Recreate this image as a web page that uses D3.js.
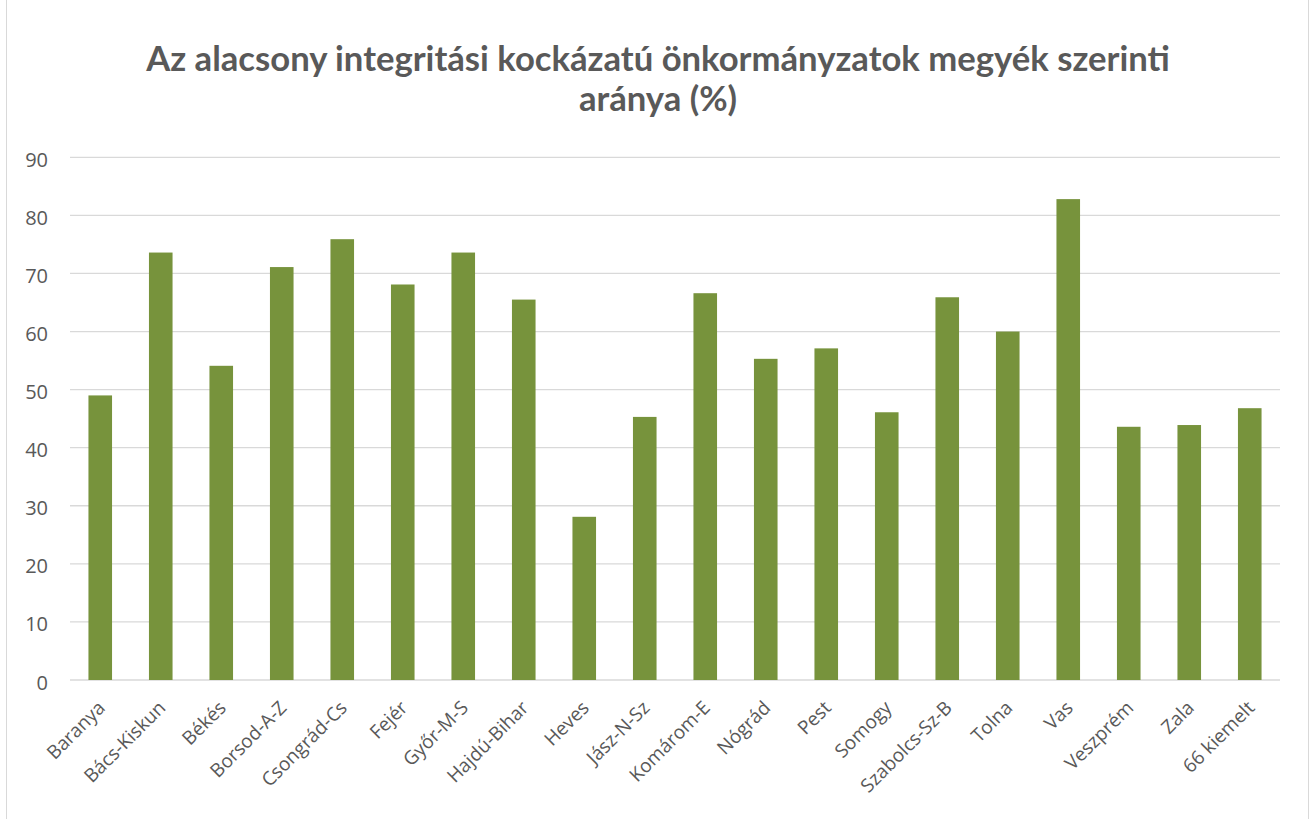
<!DOCTYPE html>
<html>
<head>
<meta charset="utf-8">
<script src="https://cdn.jsdelivr.net/npm/d3@7"></script>
<style>
  body { margin: 0; background: #fff; }
  svg { display: block; }
</style>
</head>
<body>
<div id="chart"></div>
<script>
const width = 1312, height = 819;

const title = ["Az alacsony integritási kockázatú önkormányzatok megyék szerinti", "aránya (%)"];

const counties = ["Baranya", "Bács-Kiskun", "Békés", "Borsod-A-Z", "Csongrád-Cs", "Fejér",
  "Győr-M-S", "Hajdú-Bihar", "Heves", "Jász-N-Sz", "Komárom-E", "Nógrád", "Pest",
  "Somogy", "Szabolcs-Sz-B", "Tolna", "Vas", "Veszprém", "Zala", "66 kiemelt"];

const shares = [49.0, 73.6, 54.1, 71.1, 75.9, 68.1, 73.6, 65.5, 28.1, 45.3,
  66.6, 55.3, 57.1, 46.1, 65.9, 60.0, 82.8, 43.6, 43.9, 46.8];

const yTicks = [0, 10, 20, 30, 40, 50, 60, 70, 80, 90];

const plot = {left: 70, right: 1280, top: 157.3, bottom: 680};

const svg = d3.select("#chart")
  .append("svg")
    .attr("width", width)
    .attr("height", height);

// chart frame (only sides visible)
svg.append("rect")
  .attr("x", 6.5).attr("y", -5)
  .attr("width", 1302).attr("height", height + 20)
  .attr("fill", "none")
  .attr("stroke", "#d9d9d9")
  .attr("stroke-width", 1);

const x = d3.scaleBand()
  .domain(counties)
  .range([plot.left, plot.right])
  .paddingInner(0.61)
  .paddingOuter(0.305);

const y = d3.scaleLinear()
  .domain([0, 90])
  .range([plot.bottom, plot.top]);

// gridlines
svg.append("g")
  .attr("class", "grid")
  .selectAll("line")
  .data(yTicks)
  .join("line")
    .attr("x1", plot.left)
    .attr("x2", plot.right)
    .attr("y1", d => y(d))
    .attr("y2", d => y(d))
    .attr("stroke", "#d9d9d9")
    .attr("stroke-width", 1.3);

// y axis labels
const yAxis = svg.append("g")
  .attr("transform", `translate(${plot.left - 22},0)`)
  .call(d3.axisLeft(y).tickValues(yTicks).tickSize(0).tickPadding(0));
yAxis.select(".domain").remove();
yAxis.selectAll("text")
  .attr("fill", "#595959")
  .attr("dy", "0.45em")
  .style("font-family", "'Open Sans', sans-serif")
  .style("font-size", "20px");

// bars
svg.append("g")
  .selectAll("rect")
  .data(counties)
  .join("rect")
    .attr("x", d => x(d))
    .attr("y", (d, i) => y(shares[i]))
    .attr("width", x.bandwidth())
    .attr("height", (d, i) => y(0) - y(shares[i]))
    .attr("fill", "#77933c");

// x labels
svg.append("g")
  .selectAll("text")
  .data(counties)
  .join("text")
    .attr("transform", d => `translate(${x(d) + x.bandwidth() / 2 + 6},${plot.bottom + 29}) rotate(-45)`)
    .attr("text-anchor", "end")
    .attr("fill", "#595959")
    .style("font-family", "'Open Sans', sans-serif")
    .style("font-size", "19px")
    .text(d => d);

// title, squeezed horizontally to the reference's narrow bold face
const tg = svg.append("g");
tg.selectAll("text")
  .data(title)
  .join("text")
    .attr("x", 0)
    .attr("y", (d, i) => i === 0 ? 0 : 40)
    .attr("text-anchor", "middle")
    .attr("fill", "#595959")
    .style("font-family", "Lato, sans-serif")
    .style("font-weight", "bold")
    .style("font-size", "34px")
    .text(d => d);
const w0 = tg.select("text").node().getComputedTextLength();
tg.attr("transform", `translate(658,71) scale(${1024 / w0},1)`);
</script>
</body>
</html>
